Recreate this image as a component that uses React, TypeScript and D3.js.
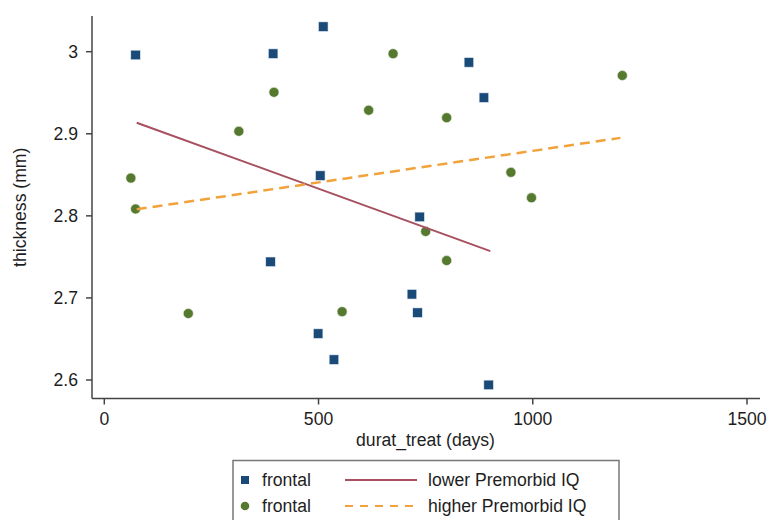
import React from "react";
import * as d3 from "d3";

const squaresX = [73, 394, 511, 851, 886, 504, 736, 388, 718, 731, 499, 536, 897];
const squaresY = [2.996, 2.9976, 3.0305, 2.987, 2.944, 2.849, 2.7987, 2.744, 2.7045, 2.682, 2.6565, 2.6248, 2.594];
const circlesX = [674, 1209, 396, 617, 799, 314, 62, 949, 997, 73, 750, 799, 196, 555];
const circlesY = [2.9976, 2.971, 2.9505, 2.9286, 2.9196, 2.903, 2.846, 2.853, 2.822, 2.8084, 2.781, 2.7455, 2.681, 2.6833];
const lowerFitX = [75.6, 901];
const lowerFitY = [2.9135, 2.757];
const higherFitX = [75.6, 1204.5];
const higherFitY = [2.808, 2.895];
const xTicks = [0, 500, 1000, 1500];
const yTicks = [2.6, 2.7, 2.8, 2.9, 3.0];
const yTickLabels = ["2.6", "2.7", "2.8", "2.9", "3"];
const legendLabels = ["frontal", "frontal", "lower Premorbid IQ", "higher Premorbid IQ"];

const NAVY = "#1a4a78";
const GREEN = "#55792f";
const MAROON = "#a8505f";
const ORANGE = "#f2a23a";
const TEXT = "#1e1e1e";
const FONT = "'Liberation Sans', Arial, Helvetica, sans-serif";
const FS = 17.6;

export default function App() {
  const x = d3.scaleLinear().domain([0, 1500]).range([104.3, 747]);
  const y = d3.scaleLinear().domain([2.6, 3.0]).range([380, 51.7]);
  const axisLeft = 92;
  const axisBottom = 398.5;
  const axisTop = 16;
  const axisRight = 760;
  const line = d3
    .line<[number, number]>()
    .x((d) => x(d[0]))
    .y((d) => y(d[1]));
  const lowerPts: [number, number][] = lowerFitX.map((v, i) => [v, lowerFitY[i]]);
  const higherPts: [number, number][] = higherFitX.map((v, i) => [v, higherFitY[i]]);
  const sq = 9.6;
  return (
    <svg
      width={768}
      height={520}
      style={{ position: "absolute", left: 0, top: 0, background: "#fff" }}
      fontFamily={FONT}
    >
      <rect x={0} y={0} width={768} height={520} fill="#fff" />
      {/* axes */}
      <line x1={axisLeft} y1={axisTop} x2={axisLeft} y2={axisBottom} stroke="#444" strokeWidth={1.5} />
      <line x1={axisLeft} y1={axisBottom} x2={axisRight} y2={axisBottom} stroke="#444" strokeWidth={1.5} />
      {yTicks.map((t, i) => (
        <g key={"yt" + i}>
          <line x1={axisLeft - 6} x2={axisLeft} y1={y(t)} y2={y(t)} stroke="#444" strokeWidth={1.5} />
          <text x={axisLeft - 14} y={y(t)} dy="0.35em" textAnchor="end" fontSize={FS} fill={TEXT}>
            {yTickLabels[i]}
          </text>
        </g>
      ))}
      {xTicks.map((t, i) => (
        <g key={"xt" + i}>
          <line x1={x(t)} x2={x(t)} y1={axisBottom} y2={axisBottom + 6} stroke="#444" strokeWidth={1.5} />
          <text x={x(t)} y={axisBottom + 26} textAnchor="middle" fontSize={FS} fill={TEXT}>
            {d3.format("d")(t)}
          </text>
        </g>
      ))}
      <text
        transform={`translate(26,${(axisTop + axisBottom) / 2}) rotate(-90)`}
        textAnchor="middle"
        fontSize={FS}
        fill={TEXT}
      >
        thickness (mm)
      </text>
      <text x={425.5} y={446} textAnchor="middle" fontSize={FS} fill={TEXT}>
        durat_treat (days)
      </text>
      {/* points */}
      {squaresX.map((v, i) => (
        <rect
          key={"s" + i}
          x={x(v) - sq / 2}
          y={y(squaresY[i]) - sq / 2}
          width={sq}
          height={sq}
          fill={NAVY}
          stroke="#e8eef5"
          strokeWidth={0.6}
        />
      ))}
      {circlesX.map((v, i) => (
        <circle key={"c" + i} cx={x(v)} cy={y(circlesY[i])} r={5} fill={GREEN} stroke="#eef3e8" strokeWidth={0.6} />
      ))}
      {/* fit lines */}
      <path d={line(lowerPts) || ""} fill="none" stroke={MAROON} strokeWidth={2} />
      <path d={line(higherPts) || ""} fill="none" stroke={ORANGE} strokeWidth={2.5} strokeDasharray="10,6" />
      {/* legend */}
      <rect x={233} y={460.5} width={386} height={70} fill="#fff" stroke="#777" strokeWidth={1.5} />
      <rect x={241} y={476} width={8} height={8} fill={NAVY} />
      <circle cx={245} cy={506} r={4.3} fill={GREEN} />
      <text x={262} y={480} dy="0.35em" fontSize={FS} fill={TEXT}>
        {legendLabels[0]}
      </text>
      <text x={262} y={506} dy="0.35em" fontSize={FS} fill={TEXT}>
        {legendLabels[1]}
      </text>
      <line x1={345} x2={417} y1={480} y2={480} stroke={MAROON} strokeWidth={2} />
      <line x1={345} x2={417} y1={506} y2={506} stroke={ORANGE} strokeWidth={2} strokeDasharray="8,7" />
      <text x={428} y={480} dy="0.35em" fontSize={FS} fill={TEXT}>
        {legendLabels[2]}
      </text>
      <text x={428} y={506} dy="0.35em" fontSize={FS} fill={TEXT}>
        {legendLabels[3]}
      </text>
    </svg>
  );
}
